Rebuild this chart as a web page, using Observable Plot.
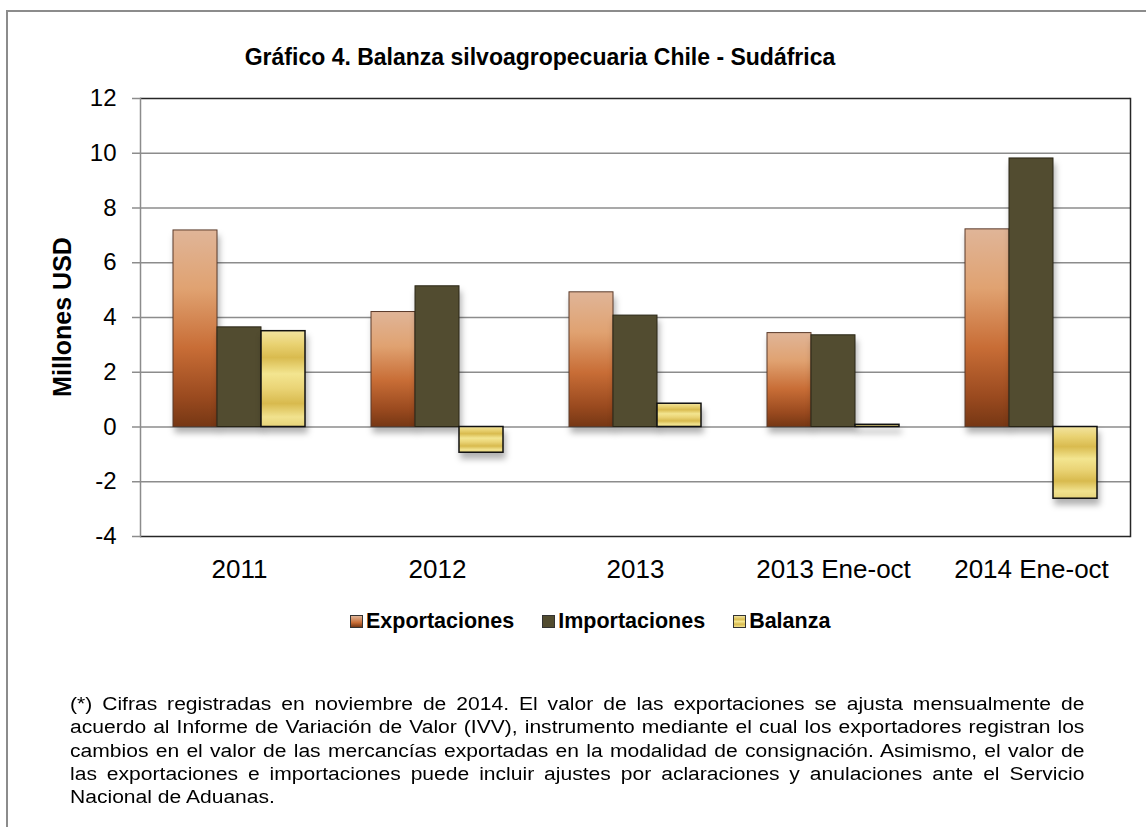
<!DOCTYPE html>
<html>
<head>
<meta charset="utf-8">
<script src="https://cdn.jsdelivr.net/npm/d3@7"></script>
<script src="https://cdn.jsdelivr.net/npm/@observablehq/plot@0.6"></script>
<style>
  body { margin: 0; background: #fff; font-family: "Liberation Sans", Arial, sans-serif; color: #000; }
  #wrap { position: relative; width: 1146px; height: 827px; overflow: hidden; }
  #border { position: absolute; left: 6px; top: 10px; width: 1200px; height: 900px;
            border-top: 2px solid #8c8c8c; border-left: 2px solid #8c8c8c; }
  #chart { position: absolute; left: 0; top: 0; }
  #title { position: absolute; top: 44px; left: 0; width: 1080px; text-align: center;
           font-weight: bold; font-size: 23px; }
  #ylabel { position: absolute; left: 62px; top: 317px; transform: translate(-50%, -50%) rotate(-90deg);
            font-weight: bold; font-size: 25px; white-space: nowrap; }
  #legend { position: absolute; top: 609px; left: 350px; display: flex; align-items: center;
            font-weight: bold; font-size: 21.5px; white-space: nowrap; }
  #legend .item { display: flex; align-items: center; margin-right: 28px; }
  #legend .sw { width: 13px; height: 13px; margin-right: 3px; border: 1px solid #333; box-sizing: border-box; }
  #note { position: absolute; top: 693px; left: 70px; width: 867px; font-size: 18px; line-height: 23.3px;
          transform: scaleX(1.17); transform-origin: 0 0; }
  #note .ln { text-align: justify; text-align-last: justify; white-space: nowrap; }
  #note .ln.last { text-align-last: left; }
</style>
</head>
<body>
<div id="wrap">
  <div id="border"></div>
  <div id="chart"></div>
  <div id="title">Gráfico 4. Balanza silvoagropecuaria Chile - Sudáfrica</div>
  <div id="ylabel">Millones USD</div>
  <div id="legend"></div>
  <div id="note"></div>
</div>
<script>
// ---- Data ----
const categories = ["2011", "2012", "2013", "2013 Ene-oct", "2014 Ene-oct"];
const seriesNames = ["Exportaciones", "Importaciones", "Balanza"];
const exportaciones = [7.18, 4.20, 4.92, 3.43, 7.22];
const importaciones = [3.64, 5.14, 4.07, 3.35, 9.81];
const balanza = [3.50, -0.94, 0.85, 0.08, -2.62];
const yTicks = [-4, -2, 0, 2, 4, 6, 8, 10, 12];
const noteLines = [
  "(*) Cifras registradas en noviembre de 2014. El valor de las exportaciones se ajusta mensualmente de",
  "acuerdo al Informe de Variación de Valor (IVV), instrumento mediante el cual los exportadores registran los",
  "cambios en el valor de las mercancías exportadas en la modalidad de consignación. Asimismo, el valor de",
  "las exportaciones e importaciones puede incluir ajustes por aclaraciones y anulaciones ante el Servicio",
  "Nacional de Aduanas."
];

const seriesValues = [exportaciones, importaciones, balanza];
const rows = [];
categories.forEach((c, i) => seriesNames.forEach((s, j) => rows.push({cat: c, serie: s, value: seriesValues[j][i]})));

// ---- Styles ----
const fills = {Exportaciones: "url(#gExp)", Importaciones: "#524c30", Balanza: "url(#gBal)"};
const strokes = {Exportaciones: "#5a3a2a", Importaciones: "#2a2616", Balanza: "#111"};
const expStops = [[0, "#e0b598"], [0.3, "#e0a271"], [0.6, "#c86d36"], [0.85, "#9a4a1f"], [1, "#763714"]];
const balStops = [[0, "#f2e4a0"], [0.14, "#e9d272"], [0.28, "#d9bb4f"], [0.45, "#f3e590"], [0.6, "#ead476"], [0.76, "#d8ba4e"], [0.9, "#f1e28e"], [1, "#e6d37a"]];

function defsMark() {
  const defs = d3.create("svg:defs");
  const add = (id, stops) => {
    const g = defs.append("linearGradient").attr("id", id).attr("x1", 0).attr("y1", 0).attr("x2", 0).attr("y2", 1);
    stops.forEach(([o, c]) => g.append("stop").attr("offset", o).attr("stop-color", c));
  };
  add("gExp", expStops);
  add("gBal", balStops);
  return defs.node();
}

const barMarks = seriesNames.map(s => Plot.barY(rows.filter(d => d.serie === s), {
  fx: "cat", x: "serie", y: "value",
  fill: fills[s], stroke: strokes[s], strokeWidth: s === "Balanza" ? 1.5 : 1,
  inset: 0,
  imageFilter: "drop-shadow(2px 6px 3px rgba(0,0,0,0.3))"
}));

const chart = Plot.plot({
  width: 1146, height: 590,
  marginTop: 98, marginBottom: 54, marginLeft: 139, marginRight: 15,
  style: {fontFamily: "'Liberation Sans', Arial, sans-serif", fontSize: "24px", color: "#000", background: "transparent", overflow: "visible"},
  fx: {domain: categories, padding: 0, label: null},
  x: {domain: seriesNames, paddingInner: 0, paddingOuter: 0.707, axis: null},
  y: {domain: [-4, 12], label: null},
  marks: [
    defsMark,
    Plot.ruleY(yTicks.filter(t => t > -4 && t < 12), {stroke: "#8c8c8c", strokeWidth: 1.5}),
    ...barMarks,
    Plot.ruleY([12, -4], {stroke: "#262626", strokeWidth: 1.5}),
    Plot.frame({anchor: "left", facetAnchor: "left", stroke: "#8c8c8c", strokeWidth: 1.5}),
    Plot.frame({anchor: "right", facetAnchor: "right", stroke: "#262626", strokeWidth: 1.5}),
    Plot.axisY({ticks: yTicks, tickSize: 8, tickPadding: 16, tickFormat: d => String(d), stroke: "#8c8c8c", strokeWidth: 1.5, fontSize: 24, label: null}),
    Plot.axisFx({anchor: "bottom", tickSize: 0, tickPadding: 23, fontSize: 26, label: null})
  ]
});
document.getElementById("chart").appendChild(chart);

// ---- Legend ----
const swatchCss = {
  Exportaciones: "linear-gradient(#e0b598, #c86d36 60%, #763714)",
  Importaciones: "#524c30",
  Balanza: "linear-gradient(#f2e4a0, #d9bb4f 30%, #f3e590 50%, #d8ba4e 75%, #f1e28e)"
};
const legend = d3.select("#legend");
seriesNames.forEach(s => {
  const it = legend.append("div").attr("class", "item");
  it.append("div").attr("class", "sw").style("background", swatchCss[s]);
  it.append("span").text(s);
});

// ---- Footnote ----
const note = d3.select("#note");
noteLines.forEach((t, i) => note.append("div").attr("class", "ln" + (i === noteLines.length - 1 ? " last" : "")).text(t));
</script>
</body>
</html>
